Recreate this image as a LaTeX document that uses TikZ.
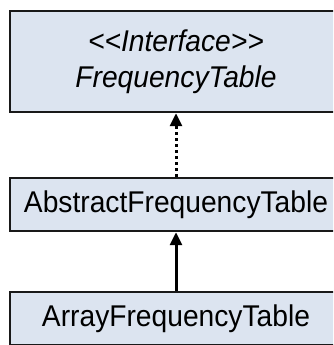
\documentclass[tikz,border=0pt]{standalone}
\usepackage{fontspec}
\setmainfont{Liberation Sans}[FakeStretch=0.94]
\usetikzlibrary{arrows.meta}
\definecolor{classfill}{HTML}{DCE4F0}
\tikzset{
    classbox/.style={draw=black!90, fill=classfill, line width=2.5pt,
        minimum width=332pt, inner sep=0pt, align=center,
        font=\fontsize{30}{36}\selectfont},
}

\begin{document}
\begin{tikzpicture}[>={Triangle[length=13pt,width=12pt]}, x=1pt, y=1pt]
    \useasboundingbox (0,0) rectangle (333,345);
    \clip (0,0) rectangle (333,345);
    \fill[white] (0,0) rectangle (333,345);
    \node[classbox, minimum height=101pt] (iface) at (176,283.5) {\textit{{<}{<}Interface{>}{>}}\\ \textit{FrequencyTable}};
    \node[classbox, minimum height=53pt] (abstract) at (176,140.5) {AbstractFrequencyTable};
    \node[classbox, minimum height=53pt] (array) at (176,26.5) {ArrayFrequencyTable};
    \draw[->, line width=3pt, dash pattern=on 3pt off 3pt] (abstract.north) -- (iface.south);
    \draw[->, line width=3pt] (array.north) -- (abstract.south);
\end{tikzpicture}
\end{document}
